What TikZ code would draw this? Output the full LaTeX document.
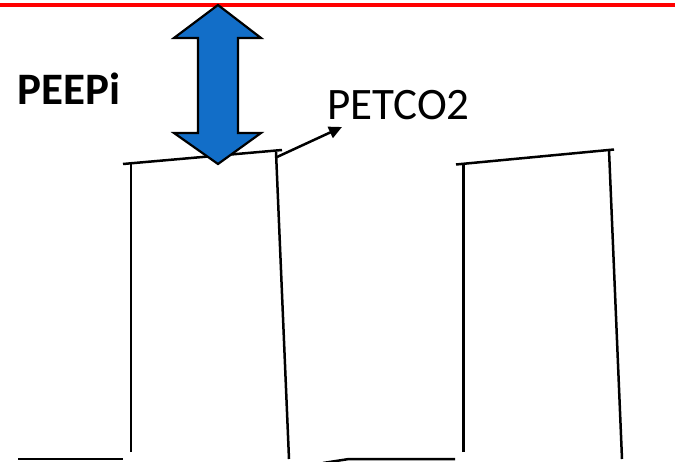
\documentclass[tikz,border=0pt]{standalone}
\usepackage{fontspec}
\setmainfont{Carlito}
\usetikzlibrary{arrows.meta}
\definecolor{arrowblue}{RGB}{18,110,200}
\begin{document}
\begin{tikzpicture}[x=1pt,y=-1pt,
  wave/.style={line width=2.5pt,black},
  lbl/.style={inner sep=0pt,anchor=base west,font=\fontsize{45}{50}\selectfont},
  dblarrow/.style={fill=arrowblue,draw=black,line width=2.2pt,line join=miter}]
\useasboundingbox (0,0) rectangle (675,462);
\fill[white] (0,0) rectangle (675,462);
% red reference line
\coordinate (rl) at (0,5.5);
\coordinate (rr) at (675,5.5);
\draw[red,line width=4pt] (rl) -- (rr);
% waveform
\coordinate (b1a) at (18,459);
\coordinate (b1b) at (123,459);
\coordinate (v1b) at (131,452);
\coordinate (v1t) at (131,164);
\coordinate (t1a) at (123,164);
\coordinate (t1b) at (282,150);
\coordinate (v2t) at (276,152);
\coordinate (v2b) at (289,459);
\coordinate (s1) at (323,463);
\coordinate (s2) at (349,459);
\coordinate (b2b) at (455,459);
\coordinate (v3b) at (463.5,452);
\coordinate (v3t) at (463.5,164);
\coordinate (t2a) at (456,164.5);
\coordinate (t2b) at (614,149.5);
\coordinate (v4t) at (609,150);
\coordinate (v4b) at (622,459);
\draw[wave] (b1a) -- (b1b);
\draw[wave] (v1b) -- (v1t);
\draw[wave] (t1a) -- (t1b);
\draw[wave] (v2t) -- (v2b);
\draw[wave] (s1) -- (s2) -- (b2b);
\draw[wave] (v3b) -- (v3t);
\draw[wave] (t2a) -- (t2b);
\draw[wave] (v4t) -- (v4b);
% labels
\node[lbl,font=\fontsize{45}{50}\selectfont\bfseries] (peepi) at (17,105) {PEEPi};
\node[lbl] (petco2) at (327,120) {PETCO2};
% pointer to PETCO2
\coordinate (pa) at (277,157);
\coordinate (pb) at (342,127);
\draw[line width=2.5pt,-{Triangle[length=13pt,width=12pt]}] (pa) -- (pb);
% double arrow (PEEPi)
\draw[dblarrow] (218,5) -- (261,38) -- (238,38) -- (238,133) -- (261,133)
  -- (218,164) -- (174,133) -- (198,133) -- (198,38) -- (174,38) -- cycle;
\end{tikzpicture}
\end{document}
